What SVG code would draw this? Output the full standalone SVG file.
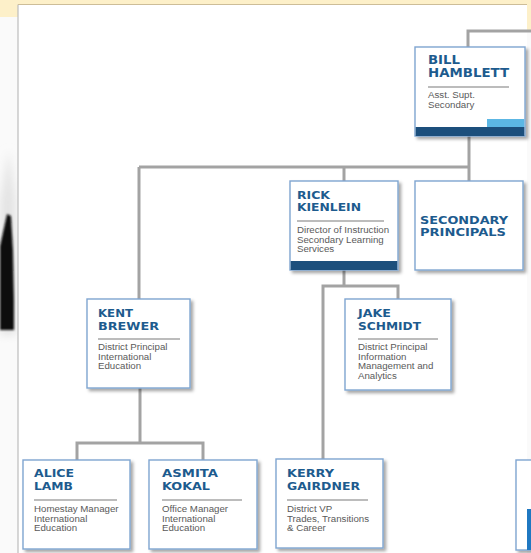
<svg xmlns="http://www.w3.org/2000/svg" width="531" height="553" viewBox="0 0 531 553">
<defs>
<filter id="sh" x="-10%" y="-10%" width="130%" height="130%">
<feDropShadow dx="2.5" dy="2.5" stdDeviation="1.6" flood-color="#000" flood-opacity="0.35"/>
</filter>
<filter id="bl" x="-50%" y="-20%" width="200%" height="140%"><feGaussianBlur stdDeviation="0.9"/></filter>
<filter id="bl2" x="-100%" y="-20%" width="300%" height="140%"><feGaussianBlur stdDeviation="4"/></filter>
<style>
.box{fill:#fff;stroke:#7fa5d0;stroke-width:1.4;filter:url(#sh)}
.nm{font-family:"DejaVu Sans",sans-serif;font-weight:bold;font-size:11px;fill:#1d5b8e}
.ds{font-family:"Liberation Sans",Arial,sans-serif;font-size:9.7px;fill:#5a5a5a}
.sep{stroke:#7a7a7a;stroke-width:1.2}
.cn{fill:none;stroke:#a3a3a3;stroke-width:3}
</style>
</defs>
<rect width="531" height="553" fill="#fafafa"/>
<rect x="0" y="0" width="531" height="4.5" fill="#fdf0c9"/>
<rect x="0" y="0" width="18" height="17" fill="#fdf0c9"/>
<rect x="527" y="0" width="4" height="30" fill="#fdf0c9"/>
<g id="photo-edge">
<polygon points="9,150 16,200 16,335 0,335 0,200" fill="#e4e4e4" filter="url(#bl2)"/>
<polygon points="7,214 11,216 13,250 14,300 14,330 0,330 0,246" fill="#101010" filter="url(#bl)"/>
</g>
<rect x="18" y="4.5" width="509" height="549" fill="#fff"/>
<line x1="18" y1="4.5" x2="18" y2="553" stroke="#bdbdbd" stroke-width="1.2"/>
<line x1="18" y1="4.5" x2="527" y2="4.5" stroke="#cdbd98" stroke-width="1.2"/>

<g id="connectors">
<path class="cn" d="M531,31 H468 V47"/>
<path class="cn" d="M469,136 V167"/>
<path class="cn" d="M139,167 H469"/>
<path class="cn" d="M139,167 V299"/>
<path class="cn" d="M344,167 V181"/>
<path class="cn" d="M469,167 V181"/>
<path class="cn" d="M344,270 V286"/>
<path class="cn" d="M323,459 V286 H398 V299"/>
<path class="cn" d="M140,388 V443"/>
<path class="cn" d="M77,460 V443 H203 V460"/>
</g>

<g id="bill">
<rect class="box" x="415" y="47" width="110" height="89"/>
<rect x="415.7" y="127" width="108.6" height="9" fill="#1c4f7c"/>
<rect x="487" y="119" width="37.3" height="8" fill="#5cb7e4"/>
<text class="nm" x="428" y="63.5" style="font-size:11.5px" textLength="32" lengthAdjust="spacingAndGlyphs">BILL</text>
<text class="nm" x="428" y="77" style="font-size:11.5px" textLength="81" lengthAdjust="spacingAndGlyphs">HAMBLETT</text>
<line class="sep" x1="428" y1="87" x2="509" y2="87"/>
<text class="ds" x="428" y="98">Asst. Supt.</text>
<text class="ds" x="428" y="107.5">Secondary</text>
</g>

<g id="rick">
<rect class="box" x="290" y="181" width="108" height="89"/>
<rect x="290.7" y="261" width="106.6" height="9" fill="#1c4f7c"/>
<text class="nm" x="297" y="198.5" textLength="33" lengthAdjust="spacingAndGlyphs">RICK</text>
<text class="nm" x="297" y="210.5" textLength="64" lengthAdjust="spacingAndGlyphs">KIENLEIN</text>
<line class="sep" x1="297" y1="221" x2="384" y2="221"/>
<text class="ds" x="297" y="233">Director of Instruction</text>
<text class="ds" x="297" y="242.5">Secondary Learning</text>
<text class="ds" x="297" y="252">Services</text>
</g>

<g id="secondary-principals">
<rect class="box" x="415" y="181" width="108" height="89"/>
<text class="nm" x="420" y="223.5" textLength="88" lengthAdjust="spacingAndGlyphs">SECONDARY</text>
<text class="nm" x="420" y="235.5" textLength="86" lengthAdjust="spacingAndGlyphs">PRINCIPALS</text>
</g>

<g id="kent">
<rect class="box" x="87" y="299" width="103" height="89"/>
<text class="nm" x="98" y="317" textLength="35" lengthAdjust="spacingAndGlyphs">KENT</text>
<text class="nm" x="98" y="329.5" textLength="61" lengthAdjust="spacingAndGlyphs">BREWER</text>
<line class="sep" x1="98" y1="339" x2="180" y2="339"/>
<text class="ds" x="98" y="350">District Principal</text>
<text class="ds" x="98" y="359.5">International</text>
<text class="ds" x="98" y="369">Education</text>
</g>

<g id="jake">
<rect class="box" x="345" y="299" width="106" height="91"/>
<text class="nm" x="358" y="317" textLength="33" lengthAdjust="spacingAndGlyphs">JAKE</text>
<text class="nm" x="358" y="329.5" textLength="63" lengthAdjust="spacingAndGlyphs">SCHMIDT</text>
<line class="sep" x1="358" y1="339" x2="438" y2="339"/>
<text class="ds" x="358" y="350">District Principal</text>
<text class="ds" x="358" y="359.5">Information</text>
<text class="ds" x="358" y="369">Management and</text>
<text class="ds" x="358" y="378.5">Analytics</text>
</g>

<g id="alice">
<rect class="box" x="23" y="460" width="107" height="89"/>
<text class="nm" x="34" y="477" textLength="40" lengthAdjust="spacingAndGlyphs">ALICE</text>
<text class="nm" x="34" y="490" textLength="39" lengthAdjust="spacingAndGlyphs">LAMB</text>
<line class="sep" x1="34" y1="500" x2="117" y2="500"/>
<text class="ds" x="34" y="512">Homestay Manager</text>
<text class="ds" x="34" y="521.5">International</text>
<text class="ds" x="34" y="531">Education</text>
</g>

<g id="asmita">
<rect class="box" x="149" y="460" width="108" height="89"/>
<text class="nm" x="162" y="477" textLength="56" lengthAdjust="spacingAndGlyphs">ASMITA</text>
<text class="nm" x="162" y="490" textLength="48" lengthAdjust="spacingAndGlyphs">KOKAL</text>
<line class="sep" x1="162" y1="500" x2="242" y2="500"/>
<text class="ds" x="162" y="512">Office Manager</text>
<text class="ds" x="162" y="521.5">International</text>
<text class="ds" x="162" y="531">Education</text>
</g>

<g id="kerry">
<rect class="box" x="276" y="459" width="107" height="89"/>
<text class="nm" x="287" y="476.5" textLength="47" lengthAdjust="spacingAndGlyphs">KERRY</text>
<text class="nm" x="287" y="489.5" textLength="73" lengthAdjust="spacingAndGlyphs">GAIRDNER</text>
<line class="sep" x1="287" y1="500" x2="368" y2="500"/>
<text class="ds" x="287" y="512">District VP</text>
<text class="ds" x="287" y="521.5">Trades, Transitions</text>
<text class="ds" x="287" y="531">&amp; Career</text>
</g>

<g id="partial-right">
<rect class="box" x="516" y="460" width="30" height="90"/>
<rect x="527" y="509" width="4" height="41" fill="#1f78c1"/>
</g>
</svg>
